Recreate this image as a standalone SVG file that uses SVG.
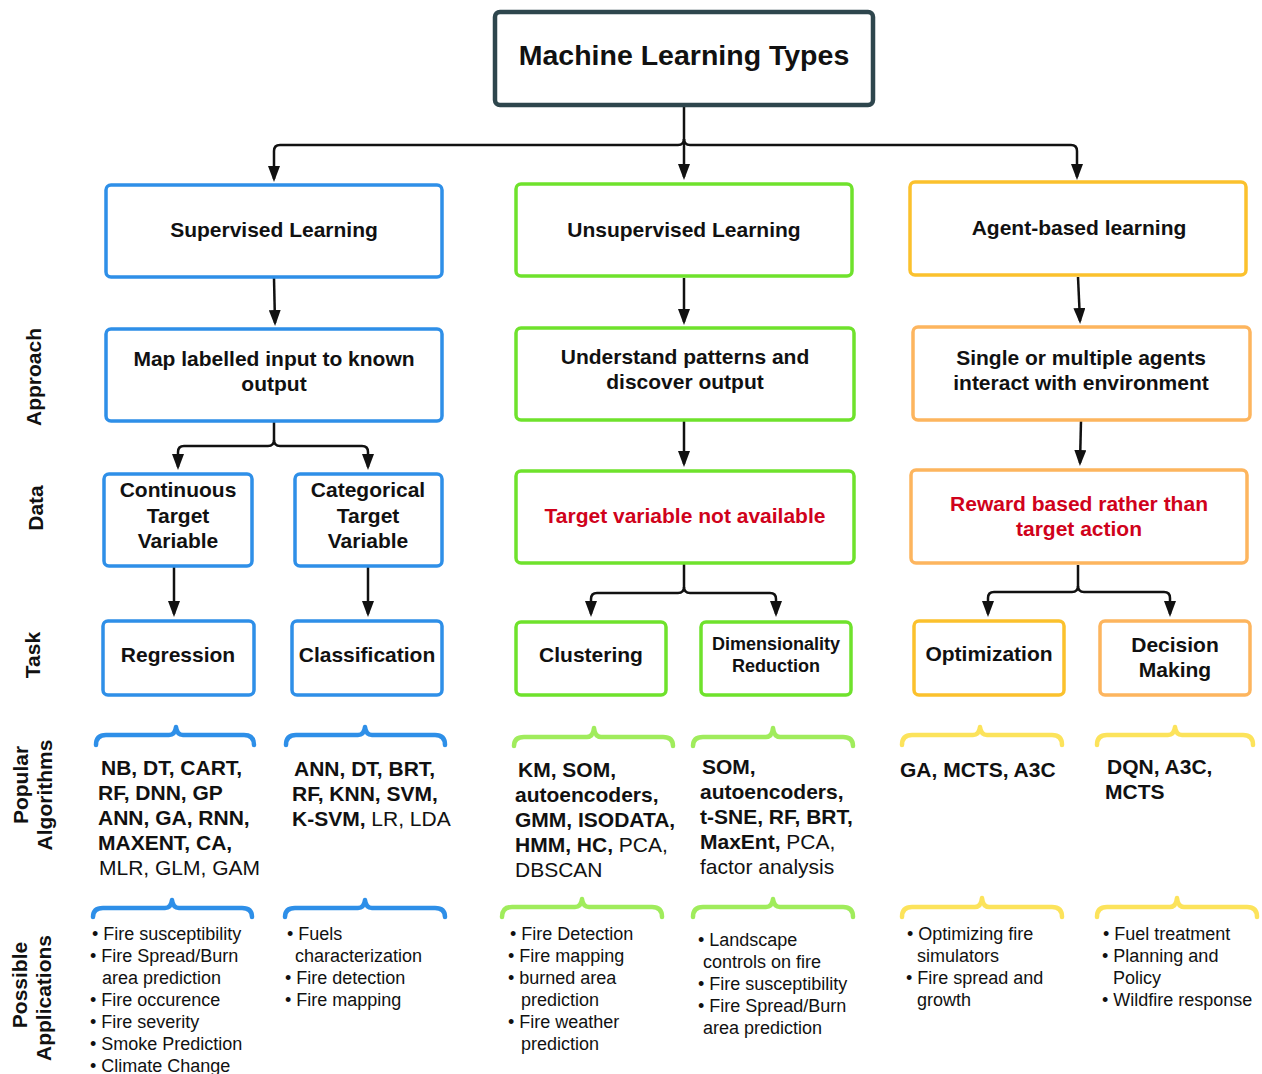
<svg xmlns="http://www.w3.org/2000/svg" width="1262" height="1074" viewBox="0 0 1262 1074">
<style>
text{font-family:"Liberation Sans",Arial,sans-serif;fill:#111}
.b{font-weight:bold;font-size:21px}
.c{text-anchor:middle}
.r{fill:#d0021b}
.t{font-size:21px}
.a{font-size:18px}
.n{font-weight:normal}
.box{fill:#fff;stroke-width:3.5}
.blue{stroke:#2e8fe8}
.green{stroke:#6fe22c}
.yel{stroke:#fbc12d}
.org{stroke:#fdb55e}
.con{fill:none;stroke:#111;stroke-width:2.5}
.br{fill:none;stroke-width:4.5;stroke-linecap:round;stroke-linejoin:round}
.bb{stroke:#2e8fe8}
.bg{stroke:#a0ec5c}
.by{stroke:#fce35b}
</style>
<defs>
<marker id="arr" viewBox="0 0 16 12" markerUnits="userSpaceOnUse" markerWidth="16" markerHeight="12" refX="13" refY="6" orient="auto">
<path d="M0,0 L16,6 L0,12 Z" fill="#111"/>
</marker>
</defs>
<rect width="1262" height="1074" fill="#fff"/>

<g id="connectors">
<path class="con" d="M684,107 V177" marker-end="url(#arr)"/>
<path class="con" d="M684,139 Q684,145 678,145 H280 Q274,145 274,151 V179" marker-end="url(#arr)"/>
<path class="con" d="M684,139 Q684,145 690,145 H1071 Q1077,145 1077,151 V177" marker-end="url(#arr)"/>
<path class="con" d="M274,278 L275,323" marker-end="url(#arr)"/>
<path class="con" d="M684,278 V322" marker-end="url(#arr)"/>
<path class="con" d="M1078,277 L1080,321" marker-end="url(#arr)"/>
<path class="con" d="M274,422 V440 Q274,446 268,446 H184 Q178,446 178,452 V467" marker-end="url(#arr)"/>
<path class="con" d="M274,440 Q274,446 280,446 H362 Q368,446 368,452 V467" marker-end="url(#arr)"/>
<path class="con" d="M684,421 V464" marker-end="url(#arr)"/>
<path class="con" d="M1081,421 L1080,463" marker-end="url(#arr)"/>
<path class="con" d="M174,567 V614" marker-end="url(#arr)"/>
<path class="con" d="M368,567 V614" marker-end="url(#arr)"/>
<path class="con" d="M684,564 V587 Q684,593 678,593 H597 Q591,593 591,599 V614" marker-end="url(#arr)"/>
<path class="con" d="M684,587 Q684,593 690,593 H770 Q776,593 776,599 V614" marker-end="url(#arr)"/>
<path class="con" d="M1078,565 V586 Q1078,592 1072,592 H994 Q988,592 988,598 V614" marker-end="url(#arr)"/>
<path class="con" d="M1078,586 Q1078,592 1084,592 H1164 Q1170,592 1170,598 V614" marker-end="url(#arr)"/>
</g>

<g id="title">
<rect x="495" y="12" width="378" height="93" rx="5" fill="#fff" stroke="#2e464d" stroke-width="4.5"/>
<text class="c" x="684" y="65" style="font-weight:bold;font-size:28.5px">Machine Learning Types</text>
</g>

<g id="supervised"><rect class="box blue" x="106" y="185" width="336" height="92" rx="5"/><text class="b c" x="274" y="236.5">Supervised Learning</text></g>
<g id="unsupervised"><rect class="box green" x="516" y="184" width="336" height="92" rx="5"/><text class="b c" x="684" y="236.5">Unsupervised Learning</text></g>
<g id="agent"><rect class="box yel" x="910" y="182" width="336" height="93" rx="5"/><text class="b c" x="1079" y="234.5">Agent-based learning</text></g>

<g id="map"><rect class="box blue" x="106" y="329" width="336" height="92" rx="5"/><text class="b c" x="274" y="365.5">Map labelled input to known</text><text class="b c" x="274" y="391">output</text></g>
<g id="understand"><rect class="box green" x="516" y="328" width="338" height="92" rx="5"/><text class="b c" x="685" y="364">Understand patterns and</text><text class="b c" x="685" y="389">discover output</text></g>
<g id="single"><rect class="box org" x="913" y="327" width="337" height="93" rx="5"/><text class="b c" x="1081" y="364.5">Single or multiple agents</text><text class="b c" x="1081" y="389.5">interact with environment</text></g>

<g id="continuous"><rect class="box blue" x="104" y="474" width="148" height="92" rx="5"/><text class="b c" x="178" y="497">Continuous</text><text class="b c" x="178" y="523">Target</text><text class="b c" x="178" y="548">Variable</text></g>
<g id="categorical"><rect class="box blue" x="295" y="474" width="147" height="92" rx="5"/><text class="b c" x="368" y="497">Categorical</text><text class="b c" x="368" y="523">Target</text><text class="b c" x="368" y="548">Variable</text></g>
<g id="notavailable"><rect class="box green" x="516" y="471" width="338" height="92" rx="5"/><text class="b c r" x="685" y="522.5">Target variable not available</text></g>
<g id="reward"><rect class="box org" x="911" y="470" width="336" height="93" rx="5"/><text class="b c r" x="1079" y="510.5">Reward based rather than</text><text class="b c r" x="1079" y="535.5">target action</text></g>

<g id="regression"><rect class="box blue" x="103" y="621" width="151" height="74" rx="5"/><text class="b c" x="178" y="661.5">Regression</text></g>
<g id="classification"><rect class="box blue" x="292" y="621" width="150" height="74" rx="5"/><text class="b c" x="367" y="661.5">Classification</text></g>
<g id="clustering"><rect class="box green" x="516" y="622" width="150" height="73" rx="5"/><text class="b c" x="591" y="661.5">Clustering</text></g>
<g id="dimred"><rect class="box green" x="701" y="622" width="150" height="73" rx="5"/><text class="c" x="776" y="649.5" style="font-weight:bold;font-size:18px">Dimensionality</text><text class="c" x="776" y="671.5" style="font-weight:bold;font-size:18px">Reduction</text></g>
<g id="optimization"><rect class="box yel" x="914" y="621" width="150" height="74" rx="5"/><text class="b c" x="989" y="660.5">Optimization</text></g>
<g id="decision"><rect class="box org" x="1100" y="621" width="150" height="74" rx="5"/><text class="b c" x="1175" y="651.5">Decision</text><text class="b c" x="1175" y="676.5">Making</text></g>

<g id="row-labels">
<text class="b c" transform="translate(41,377) rotate(-90)">Approach</text>
<text class="b c" transform="translate(43,508) rotate(-90)">Data</text>
<text class="b c" transform="translate(40,655) rotate(-90)">Task</text>
<text class="b c" transform="translate(28,785) rotate(-90)">Popular</text>
<text class="b c" transform="translate(52,795) rotate(-90)">Algorithms</text>
<text class="b c" transform="translate(27,985) rotate(-90)">Possible</text>
<text class="b c" transform="translate(51,998) rotate(-90)">Applications</text>
</g>

<g id="braces">
<path class="br bb" d="M96,745 Q96,735 106,735 H169 Q175,735 176,727 Q177,735 183,735 H244 Q254,735 254,745"/>
<path class="br bb" d="M286,745 Q286,735 296,735 H358 Q364,735 365,727 Q366,735 372,735 H435 Q445,735 445,745"/>
<path class="br bg" d="M514,746 Q514,737 524,737 H587 Q593,737 594,728 Q595,737 601,737 H663 Q673,737 673,746"/>
<path class="br bg" d="M693,746 Q693,737 703,737 H766 Q772,737 773,728 Q774,737 780,737 H843 Q853,737 853,746"/>
<path class="br by" d="M902,745 Q902,735 912,735 H973 Q979,735 980,727 Q981,735 987,735 H1052 Q1062,735 1062,745"/>
<path class="br by" d="M1097,745 Q1097,735 1107,735 H1168 Q1174,735 1175,727 Q1176,735 1182,735 H1243 Q1253,735 1253,745"/>

<path class="br bb" d="M93,917 Q93,908 103,908 H165 Q171,908 172,900 Q173,908 179,908 H242 Q252,908 252,917"/>
<path class="br bb" d="M285,917 Q285,908 295,908 H358 Q364,908 365,900 Q366,908 372,908 H435 Q445,908 445,917"/>
<path class="br bg" d="M502,917 Q502,907 512,907 H575 Q581,907 582,899 Q583,907 589,907 H652 Q662,907 662,917"/>
<path class="br bg" d="M693,917 Q693,907 703,907 H766 Q772,907 773,899 Q774,907 780,907 H843 Q853,907 853,917"/>
<path class="br by" d="M902,917 Q902,907 912,907 H975 Q981,907 982,898 Q983,907 989,907 H1052 Q1062,907 1062,917"/>
<path class="br by" d="M1097,917 Q1097,907 1107,907 H1170 Q1176,907 1177,898 Q1178,907 1184,907 H1247 Q1257,907 1257,917"/>
</g>

<g id="algorithms">
<text class="b" x="101" y="775">NB, DT, CART,</text>
<text class="b" x="98" y="800">RF, DNN, GP</text>
<text class="b" x="98" y="825">ANN, GA, RNN,</text>
<text class="b" x="98" y="850">MAXENT, CA,</text>
<text class="t" x="99" y="875">MLR, GLM, GAM</text>

<text class="b" x="294" y="776">ANN, DT, BRT,</text>
<text class="b" x="292" y="801">RF, KNN, SVM,</text>
<text class="b" x="292" y="826">K-SVM, <tspan class="n">LR, LDA</tspan></text>

<text class="b" x="518" y="777">KM, SOM,</text>
<text class="b" x="515" y="802">autoencoders,</text>
<text class="b" x="515" y="827">GMM, ISODATA,</text>
<text class="b" x="515" y="852">HMM, HC, <tspan class="n">PCA,</tspan></text>
<text class="t" x="515" y="877">DBSCAN</text>

<text class="b" x="702" y="774">SOM,</text>
<text class="b" x="700" y="799">autoencoders,</text>
<text class="b" x="700" y="824">t-SNE, RF, BRT,</text>
<text class="b" x="700" y="849">MaxEnt, <tspan class="n">PCA,</tspan></text>
<text class="t" x="700" y="874">factor analysis</text>

<text class="b" x="900" y="777">GA, MCTS, A3C</text>

<text class="b" x="1107" y="774">DQN, A3C,</text>
<text class="b" x="1105" y="799">MCTS</text>
</g>

<g id="applications">
<text class="a" x="92" y="939.5">• Fire susceptibility</text>
<text class="a" x="90" y="961.5">• Fire Spread/Burn</text>
<text class="a" x="102" y="983.5">area prediction</text>
<text class="a" x="90" y="1006">• Fire occurence</text>
<text class="a" x="90" y="1028">• Fire severity</text>
<text class="a" x="90" y="1050">• Smoke Prediction</text>
<text class="a" x="90" y="1071.5">• Climate Change</text>

<text class="a" x="287" y="939.5">• Fuels</text>
<text class="a" x="295" y="961.5">characterization</text>
<text class="a" x="285" y="983.5">• Fire detection</text>
<text class="a" x="285" y="1006">• Fire mapping</text>

<text class="a" x="510" y="939.5">• Fire Detection</text>
<text class="a" x="508" y="961.5">• Fire mapping</text>
<text class="a" x="508" y="983.5">• burned area</text>
<text class="a" x="521" y="1005.5">prediction</text>
<text class="a" x="508" y="1028">• Fire weather</text>
<text class="a" x="521" y="1049.5">prediction</text>

<text class="a" x="698" y="945.5">• Landscape</text>
<text class="a" x="703" y="967.5">controls on fire</text>
<text class="a" x="698" y="990">• Fire susceptibility</text>
<text class="a" x="698" y="1012">• Fire Spread/Burn</text>
<text class="a" x="703" y="1033.5">area prediction</text>

<text class="a" x="907" y="939.5">• Optimizing fire</text>
<text class="a" x="917" y="961.5">simulators</text>
<text class="a" x="906" y="983.5">• Fire spread and</text>
<text class="a" x="917" y="1005.5">growth</text>

<text class="a" x="1103" y="939.5">• Fuel treatment</text>
<text class="a" x="1102" y="961.5">• Planning and</text>
<text class="a" x="1113" y="983.5">Policy</text>
<text class="a" x="1102" y="1005.5">• Wildfire response</text>
</g>
</svg>
